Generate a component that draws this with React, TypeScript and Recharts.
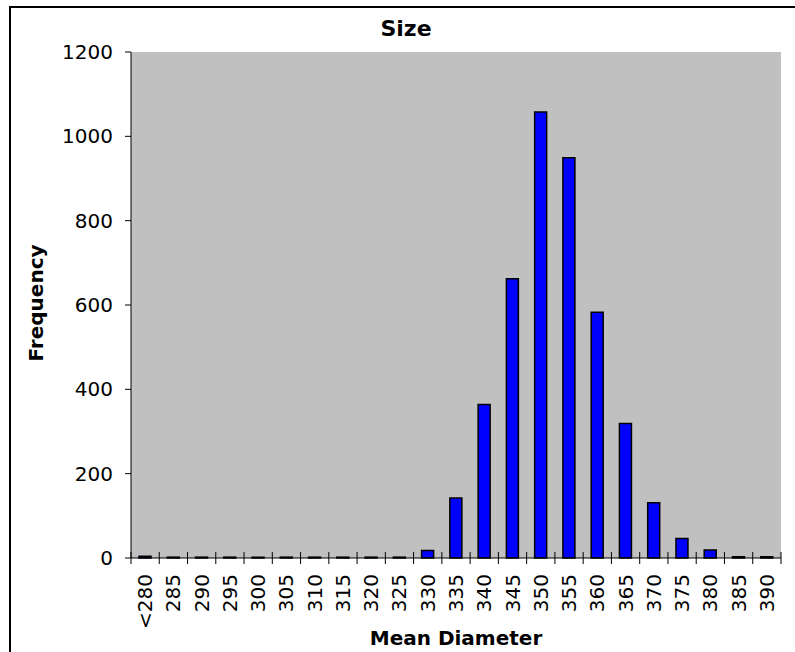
import { BarChart, Bar, XAxis, YAxis, CartesianGrid } from "recharts"

const bins = [
  "<280", "285", "290", "295", "300", "305", "310", "315", "320", "325", "330", "335",
  "340", "345", "350", "355", "360", "365", "370", "375", "380", "385", "390",
]

const counts = [4, 2, 2, 2, 2, 2, 2, 2, 2, 2, 18, 142, 364, 662, 1058, 949, 583, 319, 131, 46, 19, 3, 3]

const yTicks = [0, 200, 400, 600, 800, 1000, 1200]

const data = bins.map((bin, i) => ({ bin, count: counts[i] }))

const W = 795
const H = 652
const MARGIN = { top: 52, right: 14, bottom: 34, left: 71 }
const PLOT_W = W - MARGIN.left - 60 - MARGIN.right

// Excel-style category ticks: marks sit on bin boundaries, labels rotated under the centre
function BinTick(props: any) {
  const { x, y, payload, index, width } = props
  const band = (width || PLOT_W) / bins.length
  const left = x - band / 2
  const ty = y + 16
  return (
    <g>
      <line x1={left} x2={left} y1={y - 6} y2={y + 6} stroke="#000" />
      {index === bins.length - 1 && (
        <line x1={left + band} x2={left + band} y1={y - 6} y2={y + 6} stroke="#000" />
      )}
      <text
        x={x}
        y={ty}
        transform={`rotate(-90, ${x}, ${ty})`}
        textAnchor="end"
        dominantBaseline="central"
        fontSize={20}
        fill="#000"
      >
        {payload.value}
      </text>
    </g>
  )
}

export default function App() {
  return (
    <div
      style={{
        position: "absolute",
        left: 0,
        top: 0,
        width: W,
        height: H,
        background: "#fff",
        fontFamily: "'DejaVu Sans', Verdana, sans-serif",
        overflow: "hidden",
      }}
    >
      <div
        style={{
          position: "absolute",
          left: 9,
          top: 6,
          width: W - 9,
          height: H - 6,
          borderLeft: "2px solid #000",
          borderTop: "2px solid #000",
          boxSizing: "border-box",
        }}
      />
      <div style={{ position: "absolute", left: 0, top: 0 }}>
        <BarChart width={W} height={H} data={data} margin={MARGIN}>
          <CartesianGrid fill="#C0C0C0" horizontal={false} vertical={false} stroke="none" />
          <XAxis
            xAxisId="top"
            orientation="top"
            dataKey="bin"
            height={0}
            tick={false}
            tickLine={false}
            axisLine={{ stroke: "#808080", strokeWidth: 2 }}
          />
          <YAxis
            yAxisId="right"
            orientation="right"
            width={0}
            tick={false}
            tickLine={false}
            axisLine={{ stroke: "#808080", strokeWidth: 2 }}
          />
          <XAxis
            dataKey="bin"
            height={60}
            interval={0}
            tickSize={0}
            tickMargin={0}
            tickLine={false}
            axisLine={{ stroke: "#000" }}
            tick={<BinTick />}
          />
          <YAxis
            width={60}
            domain={[0, 1200]}
            ticks={yTicks}
            interval={0}
            tickSize={6}
            tickMargin={12}
            axisLine={{ stroke: "#000" }}
            tickLine={{ stroke: "#000" }}
            tick={{ fill: "#000", fontSize: 20 }}
          />
          <Bar
            dataKey="count"
            fill="#0000FF"
            stroke="#000"
            strokeWidth={1.5}
            barSize={12}
            isAnimationActive={false}
          />
        </BarChart>
      </div>
      <div
        style={{
          position: "absolute",
          left: 306,
          top: 16,
          width: 200,
          lineHeight: "26px",
          textAlign: "center",
          fontSize: 22,
          fontWeight: "bold",
        }}
      >
        Size
      </div>
      <div
        style={{
          position: "absolute",
          left: 356,
          top: 626,
          width: 200,
          lineHeight: "24px",
          textAlign: "center",
          fontSize: 20,
          fontWeight: "bold",
        }}
      >
        Mean Diameter
      </div>
      <div
        style={{
          position: "absolute",
          left: -64,
          top: 291,
          width: 200,
          lineHeight: "24px",
          textAlign: "center",
          fontSize: 20,
          fontWeight: "bold",
          transform: "rotate(-90deg)",
        }}
      >
        Frequency
      </div>
    </div>
  )
}
